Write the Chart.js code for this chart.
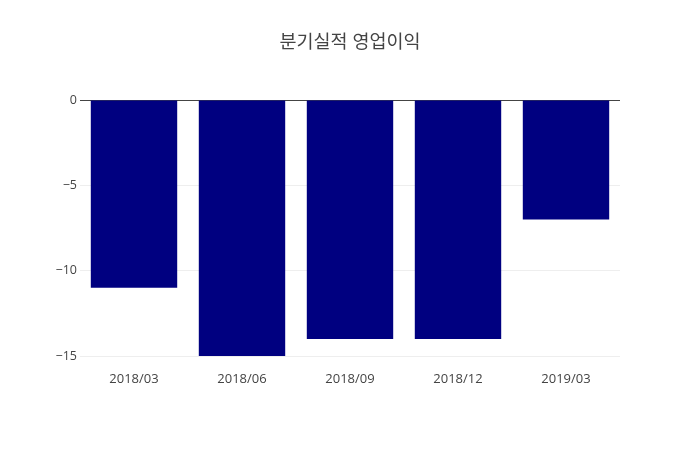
<!DOCTYPE html>
<html>
<head>
<meta charset="utf-8">
<script src="https://cdn.jsdelivr.net/npm/chart.js@4"></script>
<style>
  html, body { margin: 0; padding: 0; background: #fff; }
  canvas { display: block; }
</style>
</head>
<body>
<canvas id="chart" width="700" height="450" style="width:700px;height:450px"></canvas>
<script>
const quarters = ["2018/03", "2018/06", "2018/09", "2018/12", "2019/03"];
const operatingProfit = [-11, -15, -14, -14, -7];
const yTicks = [0, -5, -10, -15];

new Chart(document.getElementById("chart"), {
    type: "bar",
    data: {
        labels: quarters,
        datasets: [
            {
                label: "영업이익",
                data: operatingProfit,
                backgroundColor: "#000080",
                borderWidth: 0,
                barPercentage: 0.8,
                categoryPercentage: 1.0,
            },
        ],
    },
    options: {
        responsive: false,
        animation: false,
        devicePixelRatio: 1,
        layout: { padding: 0 },
        plugins: {
            legend: { display: false },
            tooltip: { enabled: false },
            title: {
                display: true,
                text: "분기실적 영업이익",
                color: "#444",
                font: { family: "'Open Sans', 'Noto Sans CJK KR', sans-serif", size: 18.5, weight: "normal" },
                padding: { top: 32, bottom: 45.8 },
            },
        },
        scales: {
            x: {
                grid: { display: false, drawTicks: false },
                border: { display: false },
                ticks: {
                    color: "#444",
                    padding: 15,
                    maxRotation: 0,
                    font: { family: "'Open Sans', sans-serif", size: 13 },
                },
                afterFit: (s) => { s.height = 94; },
            },
            y: {
                min: -15,
                max: 0,
                afterBuildTicks: (s) => { s.ticks = yTicks.map((v) => ({ value: v })); },
                grid: {
                    drawTicks: false,
                    color: (ctx) => (ctx.tick && ctx.tick.value === 0 ? "#444" : "#eee"),
                    lineWidth: 1,
                },
                border: { display: false },
                ticks: {
                    color: "#444",
                    padding: 3,
                    font: { family: "'Open Sans', sans-serif", size: 12.5 },
                    callback: (v) => String(v).replace("-", "\u2212"),
                },
                afterFit: (s) => { s.width = 80; },
            },
            // empty right margin so the title centres on the whole canvas
            yRight: {
                position: "right",
                min: -15,
                max: 0,
                grid: { display: false, drawTicks: false },
                border: { display: false },
                ticks: { display: false },
                afterFit: (s) => { s.width = 80; },
            },
        },
    },
});
</script>
</body>
</html>
